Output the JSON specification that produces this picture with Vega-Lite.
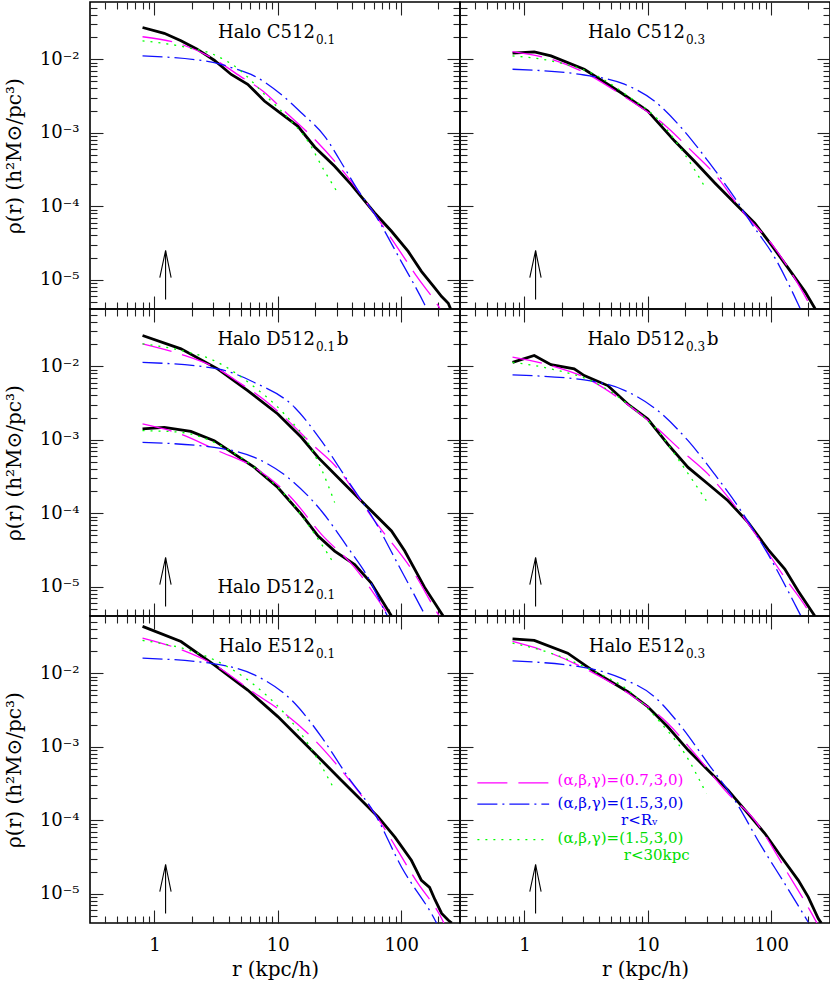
{
"$schema":"https://vega.github.io/schema/vega-lite/v6.json",
"padding":{"left":3,"top":0,"right":0,"bottom":0},
"background":"white",
"config":{"font":"DejaVu Serif","view":{"stroke":"#000","strokeWidth":1.6},
 "axis":{"domain":false,"grid":false,"tickColor":"#222","tickWidth":1.1,"labelFont":"DejaVu Serif","labelFontSize":18,"labelColor":"#000","titleFont":"DejaVu Serif","titleFontSize":20,"titleFontWeight":"normal","titleColor":"#000","labelOverlap":false,"labelFlush":false}},
"datasets":{
"curves":[
{"p":"C01","m":"sim","r":0.8,"v":0.027},{"p":"C01","m":"sim","r":1.2,"v":0.0225},{"p":"C01","m":"sim","r":1.64,"v":0.0178},{"p":"C01","m":"sim","r":2.2,"v":0.0138},{"p":"C01","m":"sim","r":3.05,"v":0.00969},{"p":"C01","m":"sim","r":4.19,"v":0.0062},{"p":"C01","m":"sim","r":5.7,"v":0.00456},{"p":"C01","m":"sim","r":7.78,"v":0.0027},{"p":"C01","m":"sim","r":10,"v":0.00197},{"p":"C01","m":"sim","r":14.5,"v":0.00123},{"p":"C01","m":"sim","r":19.9,"v":0.00064},{"p":"C01","m":"sim","r":28.9,"v":0.00035},{"p":"C01","m":"sim","r":39.4,"v":0.000197},{"p":"C01","m":"sim","r":61,"v":0.000081},{"p":"C01","m":"sim","r":83.5,"v":0.0000457},{"p":"C01","m":"sim","r":114,"v":0.0000243},{"p":"C01","m":"sim","r":146,"v":0.000013},{"p":"C01","m":"sim","r":188,"v":0.0000077},{"p":"C01","m":"sim","r":213,"v":0.0000059},{"p":"C01","m":"sim","r":241,"v":0.0000048},{"p":"C01","m":"sim","r":252,"v":0.000004},
{"p":"C01","m":"a07","r":0.8,"v":0.0202},{"p":"C01","m":"a07","r":1.64,"v":0.016},{"p":"C01","m":"a07","r":3.05,"v":0.01},{"p":"C01","m":"a07","r":5,"v":0.0058},{"p":"C01","m":"a07","r":7.55,"v":0.0037},{"p":"C01","m":"a07","r":11.3,"v":0.00197},{"p":"C01","m":"a07","r":20.5,"v":0.00077},{"p":"C01","m":"a07","r":33.8,"v":0.0003},{"p":"C01","m":"a07","r":61,"v":0.000078},{"p":"C01","m":"a07","r":100,"v":0.000023},{"p":"C01","m":"a07","r":137,"v":0.0000105},{"p":"C01","m":"a07","r":200,"v":0.0000044},{"p":"C01","m":"a07","r":215,"v":0.0000036},
{"p":"C01","m":"a15","r":0.8,"v":0.0111},{"p":"C01","m":"a15","r":3.05,"v":0.009},{"p":"C01","m":"a15","r":4.19,"v":0.0077},{"p":"C01","m":"a15","r":6.46,"v":0.0059},{"p":"C01","m":"a15","r":10.6,"v":0.00333},{"p":"C01","m":"a15","r":15.5,"v":0.00187},{"p":"C01","m":"a15","r":23.9,"v":0.0009},{"p":"C01","m":"a15","r":34.8,"v":0.00033},{"p":"C01","m":"a15","r":43.4,"v":0.000178},{"p":"C01","m":"a15","r":61,"v":0.000078},{"p":"C01","m":"a15","r":100,"v":0.0000178},{"p":"C01","m":"a15","r":155,"v":0.0000046},{"p":"C01","m":"a15","r":165,"v":0.0000037},
{"p":"C01","m":"a15c","r":0.8,"v":0.0178},{"p":"C01","m":"a15c","r":1.85,"v":0.0144},{"p":"C01","m":"a15c","r":3.05,"v":0.0115},{"p":"C01","m":"a15c","r":5.03,"v":0.0069},{"p":"C01","m":"a15c","r":7.78,"v":0.00333},{"p":"C01","m":"a15c","r":12.8,"v":0.00144},{"p":"C01","m":"a15c","r":17.5,"v":0.00077},{"p":"C01","m":"a15c","r":23.9,"v":0.0003},{"p":"C01","m":"a15c","r":28.9,"v":0.000178},{"p":"C01","m":"a15c","r":30,"v":0.00016},
{"p":"C03","m":"sim","r":0.8,"v":0.0121},{"p":"C03","m":"sim","r":1.2,"v":0.0126},{"p":"C03","m":"sim","r":1.64,"v":0.0111},{"p":"C03","m":"sim","r":3.05,"v":0.0073},{"p":"C03","m":"sim","r":6.07,"v":0.0035},{"p":"C03","m":"sim","r":10,"v":0.00197},{"p":"C03","m":"sim","r":16.5,"v":0.00077},{"p":"C03","m":"sim","r":23.9,"v":0.00041},{"p":"C03","m":"sim","r":34.8,"v":0.000209},{"p":"C03","m":"sim","r":53.7,"v":0.0001},{"p":"C03","m":"sim","r":73.6,"v":0.000059},{"p":"C03","m":"sim","r":100,"v":0.00003},{"p":"C03","m":"sim","r":137,"v":0.0000145},{"p":"C03","m":"sim","r":188,"v":0.0000069},{"p":"C03","m":"sim","r":226,"v":0.0000041},{"p":"C03","m":"sim","r":235,"v":0.0000037},
{"p":"C03","m":"a07","r":0.8,"v":0.0127},{"p":"C03","m":"a07","r":1.64,"v":0.01},{"p":"C03","m":"a07","r":3.05,"v":0.0066},{"p":"C03","m":"a07","r":6.07,"v":0.0033},{"p":"C03","m":"a07","r":14.5,"v":0.00117},{"p":"C03","m":"a07","r":21.2,"v":0.00063},{"p":"C03","m":"a07","r":37,"v":0.000243},{"p":"C03","m":"a07","r":57,"v":0.00009},{"p":"C03","m":"a07","r":107,"v":0.000027},{"p":"C03","m":"a07","r":155,"v":0.0000105},{"p":"C03","m":"a07","r":213,"v":0.0000041},
{"p":"C03","m":"a15","r":0.8,"v":0.0073},{"p":"C03","m":"a15","r":3.05,"v":0.0061},{"p":"C03","m":"a15","r":6.46,"v":0.00457},{"p":"C03","m":"a15","r":11.3,"v":0.0027},{"p":"C03","m":"a15","r":18.7,"v":0.00117},{"p":"C03","m":"a15","r":30.8,"v":0.00041},{"p":"C03","m":"a15","r":50.7,"v":0.00013},{"p":"C03","m":"a15","r":69,"v":0.000059},{"p":"C03","m":"a15","r":107,"v":0.00002},{"p":"C03","m":"a15","r":166,"v":0.0000046},{"p":"C03","m":"a15","r":175,"v":0.0000038},
{"p":"C03","m":"a15c","r":0.8,"v":0.0111},{"p":"C03","m":"a15c","r":1.64,"v":0.0095},{"p":"C03","m":"a15c","r":3.92,"v":0.0059},{"p":"C03","m":"a15c","r":6.88,"v":0.00316},{"p":"C03","m":"a15c","r":12.8,"v":0.00137},{"p":"C03","m":"a15c","r":19.9,"v":0.00051},{"p":"C03","m":"a15c","r":29.8,"v":0.00017},
{"p":"D01","s":"b","m":"sim","r":0.8,"v":0.0262},{"p":"D01","s":"b","m":"sim","r":1.64,"v":0.0172},{"p":"D01","s":"b","m":"sim","r":3.25,"v":0.0092},{"p":"D01","s":"b","m":"sim","r":5.7,"v":0.00466},{"p":"D01","s":"b","m":"sim","r":10,"v":0.00224},{"p":"D01","s":"b","m":"sim","r":15.5,"v":0.00108},{"p":"D01","s":"b","m":"sim","r":21.2,"v":0.000575},{"p":"D01","s":"b","m":"sim","r":32.7,"v":0.000276},{"p":"D01","s":"b","m":"sim","r":54,"v":0.000119},{"p":"D01","s":"b","m":"sim","r":83.5,"v":0.0000575},{"p":"D01","s":"b","m":"sim","r":107,"v":0.0000306},{"p":"D01","s":"b","m":"sim","r":155,"v":0.0000098},{"p":"D01","s":"b","m":"sim","r":219,"v":0.000004},
{"p":"D01","s":"b","m":"a07","r":0.8,"v":0.0202},{"p":"D01","s":"b","m":"a07","r":1.64,"v":0.0145},{"p":"D01","s":"b","m":"a07","r":3.25,"v":0.0092},{"p":"D01","s":"b","m":"a07","r":5,"v":0.0058},{"p":"D01","s":"b","m":"a07","r":7.55,"v":0.0036},{"p":"D01","s":"b","m":"a07","r":11.3,"v":0.00202},{"p":"D01","s":"b","m":"a07","r":20,"v":0.0008},{"p":"D01","s":"b","m":"a07","r":28.9,"v":0.00045},{"p":"D01","s":"b","m":"a07","r":61,"v":0.0000785},{"p":"D01","s":"b","m":"a07","r":129,"v":0.0000148},{"p":"D01","s":"b","m":"a07","r":200,"v":0.0000042},{"p":"D01","s":"b","m":"a07","r":215,"v":0.0000035},
{"p":"D01","s":"b","m":"a15","r":0.8,"v":0.0113},{"p":"D01","s":"b","m":"a15","r":3.25,"v":0.0092},{"p":"D01","s":"b","m":"a15","r":6.46,"v":0.006},{"p":"D01","s":"b","m":"a15","r":13.7,"v":0.00275},{"p":"D01","s":"b","m":"a15","r":22.5,"v":0.00097},{"p":"D01","s":"b","m":"a15","r":37,"v":0.000276},{"p":"D01","s":"b","m":"a15","r":61,"v":0.0000785},{"p":"D01","s":"b","m":"a15","r":94.6,"v":0.00002},{"p":"D01","s":"b","m":"a15","r":155,"v":0.0000042},
{"p":"D01","s":"b","m":"a15c","r":0.8,"v":0.0202},{"p":"D01","s":"b","m":"a15c","r":1.64,"v":0.0164},{"p":"D01","s":"b","m":"a15c","r":3.05,"v":0.0119},{"p":"D01","s":"b","m":"a15c","r":6.46,"v":0.0052},{"p":"D01","s":"b","m":"a15c","r":11.3,"v":0.00224},{"p":"D01","s":"b","m":"a15c","r":18.7,"v":0.00076},{"p":"D01","s":"b","m":"a15c","r":23,"v":0.00037},{"p":"D01","s":"b","m":"a15c","r":28.9,"v":0.00014},
{"p":"D01","s":"a","m":"sim","r":0.8,"v":0.0014},{"p":"D01","s":"a","m":"sim","r":1.2,"v":0.00147},{"p":"D01","s":"a","m":"sim","r":1.97,"v":0.0013},{"p":"D01","s":"a","m":"sim","r":3.05,"v":0.00097},{"p":"D01","s":"a","m":"sim","r":6.46,"v":0.00042},{"p":"D01","s":"a","m":"sim","r":10,"v":0.000224},{"p":"D01","s":"a","m":"sim","r":15.5,"v":0.000097},{"p":"D01","s":"a","m":"sim","r":21.2,"v":0.000049},{"p":"D01","s":"a","m":"sim","r":28.9,"v":0.0000306},{"p":"D01","s":"a","m":"sim","r":42,"v":0.00002},{"p":"D01","s":"a","m":"sim","r":57,"v":0.0000113},{"p":"D01","s":"a","m":"sim","r":83.5,"v":0.000004},
{"p":"D01","s":"a","m":"a07","r":0.8,"v":0.00164},{"p":"D01","s":"a","m":"a07","r":1.64,"v":0.00119},{"p":"D01","s":"a","m":"a07","r":3.25,"v":0.00071},{"p":"D01","s":"a","m":"a07","r":6.46,"v":0.00042},{"p":"D01","s":"a","m":"a07","r":12.8,"v":0.000164},{"p":"D01","s":"a","m":"a07","r":22.5,"v":0.000052},{"p":"D01","s":"a","m":"a07","r":42,"v":0.0000182},{"p":"D01","s":"a","m":"a07","r":78,"v":0.0000042},
{"p":"D01","s":"a","m":"a15","r":0.8,"v":0.00092},{"p":"D01","s":"a","m":"a15","r":3.05,"v":0.000785},{"p":"D01","s":"a","m":"a15","r":6.46,"v":0.000575},{"p":"D01","s":"a","m":"a15","r":12.1,"v":0.000306},{"p":"D01","s":"a","m":"a15","r":22.5,"v":0.000108},{"p":"D01","s":"a","m":"a15","r":37,"v":0.000034},{"p":"D01","s":"a","m":"a15","r":54,"v":0.0000133},{"p":"D01","s":"a","m":"a15","r":73.6,"v":0.0000047},{"p":"D01","s":"a","m":"a15","r":78,"v":0.0000039},
{"p":"D01","s":"a","m":"a15c","r":0.8,"v":0.00133},{"p":"D01","s":"a","m":"a15c","r":1.64,"v":0.00126},{"p":"D01","s":"a","m":"a15c","r":3.05,"v":0.00092},{"p":"D01","s":"a","m":"a15c","r":6.46,"v":0.00042},{"p":"D01","s":"a","m":"a15c","r":11.3,"v":0.000182},{"p":"D01","s":"a","m":"a15c","r":19.9,"v":0.000052},{"p":"D01","s":"a","m":"a15c","r":28.9,"v":0.00002},
{"p":"D03","m":"sim","r":0.8,"v":0.0113},{"p":"D03","m":"sim","r":1.2,"v":0.014},{"p":"D03","m":"sim","r":1.64,"v":0.0105},{"p":"D03","m":"sim","r":2.53,"v":0.0092},{"p":"D03","m":"sim","r":3.05,"v":0.00746},{"p":"D03","m":"sim","r":4.73,"v":0.00545},{"p":"D03","m":"sim","r":6.88,"v":0.00306},{"p":"D03","m":"sim","r":10,"v":0.00191},{"p":"D03","m":"sim","r":14.5,"v":0.00087},{"p":"D03","m":"sim","r":21.2,"v":0.00042},{"p":"D03","m":"sim","r":30.8,"v":0.00025},{"p":"D03","m":"sim","r":44.7,"v":0.000148},{"p":"D03","m":"sim","r":65,"v":0.000075},{"p":"D03","m":"sim","r":94.6,"v":0.000032},{"p":"D03","m":"sim","r":129,"v":0.0000174},{"p":"D03","m":"sim","r":166,"v":0.0000087},{"p":"D03","m":"sim","r":226,"v":0.000004},
{"p":"D03","m":"a07","r":0.8,"v":0.0133},{"p":"D03","m":"a07","r":1.64,"v":0.0102},{"p":"D03","m":"a07","r":3.05,"v":0.0071},{"p":"D03","m":"a07","r":5.7,"v":0.00377},{"p":"D03","m":"a07","r":11.3,"v":0.00155},{"p":"D03","m":"a07","r":18.7,"v":0.00071},{"p":"D03","m":"a07","r":30.8,"v":0.00034},{"p":"D03","m":"a07","r":57,"v":0.000098},{"p":"D03","m":"a07","r":129,"v":0.0000133},{"p":"D03","m":"a07","r":200,"v":0.0000047},{"p":"D03","m":"a07","r":215,"v":0.0000038},
{"p":"D03","m":"a15","r":0.8,"v":0.0076},{"p":"D03","m":"a15","r":3.05,"v":0.0065},{"p":"D03","m":"a15","r":6.46,"v":0.0047},{"p":"D03","m":"a15","r":12,"v":0.0025},{"p":"D03","m":"a15","r":21.2,"v":0.00097},{"p":"D03","m":"a15","r":34.8,"v":0.00034},{"p":"D03","m":"a15","r":57,"v":0.000108},{"p":"D03","m":"a15","r":94.6,"v":0.0000275},{"p":"D03","m":"a15","r":166,"v":0.0000047},{"p":"D03","m":"a15","r":180,"v":0.0000036},
{"p":"D03","m":"a15c","r":0.8,"v":0.0113},{"p":"D03","m":"a15c","r":1.64,"v":0.0092},{"p":"D03","m":"a15c","r":3.68,"v":0.00605},{"p":"D03","m":"a15c","r":6.88,"v":0.00306},{"p":"D03","m":"a15c","r":12,"v":0.00133},{"p":"D03","m":"a15c","r":18.7,"v":0.00047},{"p":"D03","m":"a15c","r":29.8,"v":0.000148},
{"p":"E01","m":"sim","r":0.8,"v":0.0433},{"p":"E01","m":"sim","r":1.64,"v":0.027},{"p":"E01","m":"sim","r":3.05,"v":0.013},{"p":"E01","m":"sim","r":5.7,"v":0.0059},{"p":"E01","m":"sim","r":10,"v":0.00257},{"p":"E01","m":"sim","r":15.5,"v":0.00123},{"p":"E01","m":"sim","r":22.5,"v":0.00066},{"p":"E01","m":"sim","r":32.7,"v":0.00035},{"p":"E01","m":"sim","r":47.6,"v":0.000187},{"p":"E01","m":"sim","r":65,"v":0.000111},{"p":"E01","m":"sim","r":89,"v":0.000059},{"p":"E01","m":"sim","r":121,"v":0.0000285},{"p":"E01","m":"sim","r":146,"v":0.0000152},{"p":"E01","m":"sim","r":170,"v":0.0000122},{"p":"E01","m":"sim","r":188,"v":0.0000083},{"p":"E01","m":"sim","r":213,"v":0.0000054},{"p":"E01","m":"sim","r":240,"v":0.0000044},{"p":"E01","m":"sim","r":257,"v":0.000004},
{"p":"E01","m":"a07","r":0.8,"v":0.03},{"p":"E01","m":"a07","r":1.64,"v":0.0209},{"p":"E01","m":"a07","r":3.05,"v":0.013},{"p":"E01","m":"a07","r":6.46,"v":0.00537},{"p":"E01","m":"a07","r":11.3,"v":0.00285},{"p":"E01","m":"a07","r":19.9,"v":0.00123},{"p":"E01","m":"a07","r":32.7,"v":0.00048},{"p":"E01","m":"a07","r":61,"v":0.000123},{"p":"E01","m":"a07","r":137,"v":0.0000138},{"p":"E01","m":"a07","r":213,"v":0.0000046},{"p":"E01","m":"a07","r":225,"v":0.0000038},
{"p":"E01","m":"a15","r":0.8,"v":0.016},{"p":"E01","m":"a15","r":3.05,"v":0.0134},{"p":"E01","m":"a15","r":6.46,"v":0.0095},{"p":"E01","m":"a15","r":13.7,"v":0.0039},{"p":"E01","m":"a15","r":22.5,"v":0.00137},{"p":"E01","m":"a15","r":37,"v":0.00039},{"p":"E01","m":"a15","r":61,"v":0.000123},{"p":"E01","m":"a15","r":100.6,"v":0.0000231},{"p":"E01","m":"a15","r":188,"v":0.0000044},{"p":"E01","m":"a15","r":200,"v":0.0000036},
{"p":"E01","m":"a15c","r":0.8,"v":0.0279},{"p":"E01","m":"a15c","r":1.85,"v":0.0209},{"p":"E01","m":"a15c","r":3.05,"v":0.0152},{"p":"E01","m":"a15c","r":6.46,"v":0.0069},{"p":"E01","m":"a15c","r":11.3,"v":0.00285},{"p":"E01","m":"a15c","r":17.5,"v":0.00111},{"p":"E01","m":"a15c","r":28.9,"v":0.000257},
{"p":"E03","m":"sim","r":0.8,"v":0.0294},{"p":"E03","m":"sim","r":1.2,"v":0.0279},{"p":"E03","m":"sim","r":2.24,"v":0.0187},{"p":"E03","m":"sim","r":3.68,"v":0.0105},{"p":"E03","m":"sim","r":6.88,"v":0.0056},{"p":"E03","m":"sim","r":10,"v":0.0035},{"p":"E03","m":"sim","r":14.5,"v":0.00187},{"p":"E03","m":"sim","r":21.2,"v":0.0009},{"p":"E03","m":"sim","r":30.8,"v":0.00048},{"p":"E03","m":"sim","r":44.7,"v":0.000257},{"p":"E03","m":"sim","r":65,"v":0.000123},{"p":"E03","m":"sim","r":89,"v":0.000066},{"p":"E03","m":"sim","r":121,"v":0.0000316},{"p":"E03","m":"sim","r":166,"v":0.0000152},{"p":"E03","m":"sim","r":200,"v":0.000009},{"p":"E03","m":"sim","r":241,"v":0.0000046},{"p":"E03","m":"sim","r":255,"v":0.000004},
{"p":"E03","m":"a07","r":0.8,"v":0.027},{"p":"E03","m":"a07","r":1.64,"v":0.0187},{"p":"E03","m":"a07","r":3.25,"v":0.0111},{"p":"E03","m":"a07","r":6.88,"v":0.00537},{"p":"E03","m":"a07","r":14.5,"v":0.00209},{"p":"E03","m":"a07","r":23.9,"v":0.00081},{"p":"E03","m":"a07","r":44.7,"v":0.000231},{"p":"E03","m":"a07","r":73.6,"v":0.0001},{"p":"E03","m":"a07","r":137,"v":0.0000187},{"p":"E03","m":"a07","r":213,"v":0.0000054},{"p":"E03","m":"a07","r":235,"v":0.000004},
{"p":"E03","m":"a15","r":0.8,"v":0.0147},{"p":"E03","m":"a15","r":3.25,"v":0.0117},{"p":"E03","m":"a15","r":6.07,"v":0.00855},{"p":"E03","m":"a15","r":11.3,"v":0.0048},{"p":"E03","m":"a15","r":18.7,"v":0.00187},{"p":"E03","m":"a15","r":30.8,"v":0.00059},{"p":"E03","m":"a15","r":50.7,"v":0.000187},{"p":"E03","m":"a15","r":83.5,"v":0.000044},{"p":"E03","m":"a15","r":129,"v":0.0000137},{"p":"E03","m":"a15","r":200,"v":0.0000041},
{"p":"E03","m":"a15c","r":0.8,"v":0.0257},{"p":"E03","m":"a15c","r":1.64,"v":0.0187},{"p":"E03","m":"a15c","r":3.46,"v":0.0111},{"p":"E03","m":"a15c","r":6.88,"v":0.0059},{"p":"E03","m":"a15c","r":12.8,"v":0.00209},{"p":"E03","m":"a15c","r":19.9,"v":0.00081},{"p":"E03","m":"a15c","r":29.8,"v":0.000231}
],
"arrow":[
{"g":"shaft","i":0,"r":1.23,"v":0.0000054},{"g":"shaft","i":1,"r":1.23,"v":0.000025},
{"g":"head","i":0,"r":1.104,"v":0.0000107},{"g":"head","i":1,"r":1.23,"v":0.000025},{"g":"head","i":2,"r":1.364,"v":0.0000107}
],
"labels":[
{"p":"C01","a":"Halo C512","b":"0.1","c":"","r":20,"v":0.023},
{"p":"C03","a":"Halo C512","b":"0.3","c":"","r":20,"v":0.023},
{"p":"D01","a":"Halo D512","b":"0.1","c":"b","r":20,"v":0.023},
{"p":"D01","a":"Halo D512","b":"0.1","c":"","r":20,"v":0.0000095},
{"p":"D03","a":"Halo D512","b":"0.3","c":"b","r":20,"v":0.023},
{"p":"E01","a":"Halo E512","b":"0.1","c":"","r":20,"v":0.023},
{"p":"E03","a":"Halo E512","b":"0.3","c":"","r":20,"v":0.023}
],
"leglines":[
{"m":"a07","r":0.415,"v":0.000323},{"m":"a07","r":1.585,"v":0.000323},
{"m":"a15","r":0.415,"v":0.000166},{"m":"a15","r":1.585,"v":0.000166},
{"m":"a15c","r":0.415,"v":0.0000545},{"m":"a15c","r":1.585,"v":0.0000545}
],
"legtext":[
{"m":"a07","t":"(α,β,γ)=(0.7,3,0)","r":1.855,"v":0.00035},
{"m":"a15","t":"(α,β,γ)=(1.5,3,0)","r":1.855,"v":0.00017},
{"m":"a15","t":"r<Rᵥ","r":6.07,"v":0.0001},
{"m":"a15c","t":"(α,β,γ)=(1.5,3,0)","r":1.855,"v":0.000058},
{"m":"a15c","t":"r<30kpc","r":6.38,"v":0.0000333}
]
},
"columns":2,
"spacing":0,
"bounds":"flush",
"concat":[
{"width":370,"height":307,"resolve":{"axis":{"x":"independent","y":"independent"}},"layer":[
 {"data":{"name":"curves"},"transform":[{"filter":"datum.p == 'C01' && datum.m == 'sim'"}],"mark":{"type":"line","color":"#000","strokeWidth":2.8,"clip":true},
  "encoding":{"x":{"field":"r","type":"quantitative","scale":{"type":"log","domain":[0.3,300],"nice":false},"axis":{"orient":"bottom","values":[1,10,100],"offset":-13,"tickSize":13,"labels":false,"title":null}},
  "y":{"field":"v","type":"quantitative","scale":{"type":"log","domain":[0.000004,0.06],"nice":false},"axis":{"orient":"left","values":[0.00001,0.0001,0.001,0.01],"offset":-13,"tickSize":13,"labelExpr":"datum.value == 0.01 ? '10⁻²' : datum.value == 0.001 ? '10⁻³' : datum.value == 0.0001 ? '10⁻⁴' : '10⁻⁵'","labelPadding":11,"title":"ρ(r)  (h²M⊙/pc³)","titlePadding":15}},"detail":{"field":"s"}}},
 {"data":{"name":"arrow"},"mark":{"type":"point","opacity":0},"encoding":{"x":{"field":"r","type":"quantitative","scale":{"type":"log","domain":[0.3,300],"nice":false},"axis":{"orient":"bottom","values":[0.4,0.5,0.6,0.7,0.8,0.9,2,3,4,5,6,7,8,9,20,30,40,50,60,70,80,90,200],"offset":-7,"tickSize":7,"labels":false,"title":null}},"y":{"field":"v","type":"quantitative","scale":{"type":"log","domain":[0.000004,0.06],"nice":false},"axis":{"orient":"left","values":[0.000005,0.000006,0.000007,0.000008,0.000009,0.00002,0.00003,0.00004,0.00005,0.00006,0.00007,0.00008,0.00009,0.0002,0.0003,0.0004,0.0005,0.0006,0.0007,0.0008,0.0009,0.002,0.003,0.004,0.005,0.006,0.007,0.008,0.009,0.02,0.03,0.04,0.05],"offset":-7,"tickSize":7,"labels":false,"title":null}}}},
 {"data":{"name":"arrow"},"mark":{"type":"point","opacity":0},"encoding":{"x":{"field":"r","type":"quantitative","scale":{"type":"log","domain":[0.3,300],"nice":false},"axis":{"orient":"top","values":[1,10,100],"offset":-13,"tickSize":13,"labels":false,"title":null}},"y":{"field":"v","type":"quantitative","scale":{"type":"log","domain":[0.000004,0.06],"nice":false},"axis":{"orient":"right","values":[0.00001,0.0001,0.001,0.01],"offset":-13,"tickSize":13,"labels":false,"title":null}}}},
 {"data":{"name":"arrow"},"mark":{"type":"point","opacity":0},"encoding":{"x":{"field":"r","type":"quantitative","scale":{"type":"log","domain":[0.3,300],"nice":false},"axis":{"orient":"top","values":[0.4,0.5,0.6,0.7,0.8,0.9,2,3,4,5,6,7,8,9,20,30,40,50,60,70,80,90,200],"offset":-7,"tickSize":7,"labels":false,"title":null}},"y":{"field":"v","type":"quantitative","scale":{"type":"log","domain":[0.000004,0.06],"nice":false},"axis":{"orient":"right","values":[0.000005,0.000006,0.000007,0.000008,0.000009,0.00002,0.00003,0.00004,0.00005,0.00006,0.00007,0.00008,0.00009,0.0002,0.0003,0.0004,0.0005,0.0006,0.0007,0.0008,0.0009,0.002,0.003,0.004,0.005,0.006,0.007,0.008,0.009,0.02,0.03,0.04,0.05],"offset":-7,"tickSize":7,"labels":false,"title":null}}}},
 {"data":{"name":"curves"},"transform":[{"filter":"datum.p == 'C01' && datum.m != 'sim'"}],"mark":{"type":"line","strokeWidth":1.3,"clip":true,"interpolate":"monotone"},
  "encoding":{"x":{"field":"r","type":"quantitative","scale":{"type":"log","domain":[0.3,300],"nice":false},"axis":null},"y":{"field":"v","type":"quantitative","scale":{"type":"log","domain":[0.000004,0.06],"nice":false},"axis":null},
  "color":{"field":"m","type":"nominal","scale":{"domain":["a07","a15","a15c"],"range":["#ff00ff","#1010ff","#00ff00"]},"legend":null},
  "strokeDash":{"field":"m","type":"nominal","scale":{"domain":["a07","a15","a15c"],"range":[[30,11],[20,5,2,5],[2,6]]},"legend":null},"detail":{"field":"s"}}},
 {"data":{"name":"arrow"},"mark":{"type":"line","color":"#000","strokeWidth":1.1},"encoding":{"x":{"field":"r","type":"quantitative","scale":{"type":"log","domain":[0.3,300],"nice":false},"axis":null},"y":{"field":"v","type":"quantitative","scale":{"type":"log","domain":[0.000004,0.06],"nice":false},"axis":null},"detail":{"field":"g"},"order":{"field":"i"}}},
 {"data":{"name":"labels"},"transform":[{"filter":"datum.p == 'C01'"}],"mark":{"type":"text","align":"right","baseline":"middle","fontSize":18,"color":"#000"},"encoding":{"x":{"field":"r","type":"quantitative","scale":{"type":"log","domain":[0.3,300],"nice":false},"axis":null},"y":{"field":"v","type":"quantitative","scale":{"type":"log","domain":[0.000004,0.06],"nice":false},"axis":null},"text":{"field":"a"}}},
 {"data":{"name":"labels"},"transform":[{"filter":"datum.p == 'C01'"}],"mark":{"type":"text","align":"left","baseline":"middle","fontSize":12,"dx":1,"dy":7,"color":"#000"},"encoding":{"x":{"field":"r","type":"quantitative","scale":{"type":"log","domain":[0.3,300],"nice":false},"axis":null},"y":{"field":"v","type":"quantitative","scale":{"type":"log","domain":[0.000004,0.06],"nice":false},"axis":null},"text":{"field":"b"}}}
]},
{"width":370,"height":307,"resolve":{"axis":{"x":"independent","y":"independent"}},"layer":[
 {"data":{"name":"curves"},"transform":[{"filter":"datum.p == 'C03' && datum.m == 'sim'"}],"mark":{"type":"line","color":"#000","strokeWidth":2.8,"clip":true},
  "encoding":{"x":{"field":"r","type":"quantitative","scale":{"type":"log","domain":[0.3,300],"nice":false},"axis":{"orient":"bottom","values":[1,10,100],"offset":-13,"tickSize":13,"labels":false,"title":null}},
  "y":{"field":"v","type":"quantitative","scale":{"type":"log","domain":[0.000004,0.06],"nice":false},"axis":{"orient":"left","values":[0.00001,0.0001,0.001,0.01],"offset":-13,"tickSize":13,"labels":false,"title":null}},"detail":{"field":"s"}}},
 {"data":{"name":"arrow"},"mark":{"type":"point","opacity":0},"encoding":{"x":{"field":"r","type":"quantitative","scale":{"type":"log","domain":[0.3,300],"nice":false},"axis":{"orient":"bottom","values":[0.4,0.5,0.6,0.7,0.8,0.9,2,3,4,5,6,7,8,9,20,30,40,50,60,70,80,90,200],"offset":-7,"tickSize":7,"labels":false,"title":null}},"y":{"field":"v","type":"quantitative","scale":{"type":"log","domain":[0.000004,0.06],"nice":false},"axis":{"orient":"left","values":[0.000005,0.000006,0.000007,0.000008,0.000009,0.00002,0.00003,0.00004,0.00005,0.00006,0.00007,0.00008,0.00009,0.0002,0.0003,0.0004,0.0005,0.0006,0.0007,0.0008,0.0009,0.002,0.003,0.004,0.005,0.006,0.007,0.008,0.009,0.02,0.03,0.04,0.05],"offset":-7,"tickSize":7,"labels":false,"title":null}}}},
 {"data":{"name":"arrow"},"mark":{"type":"point","opacity":0},"encoding":{"x":{"field":"r","type":"quantitative","scale":{"type":"log","domain":[0.3,300],"nice":false},"axis":{"orient":"top","values":[1,10,100],"offset":-13,"tickSize":13,"labels":false,"title":null}},"y":{"field":"v","type":"quantitative","scale":{"type":"log","domain":[0.000004,0.06],"nice":false},"axis":{"orient":"right","values":[0.00001,0.0001,0.001,0.01],"offset":-13,"tickSize":13,"labels":false,"title":null}}}},
 {"data":{"name":"arrow"},"mark":{"type":"point","opacity":0},"encoding":{"x":{"field":"r","type":"quantitative","scale":{"type":"log","domain":[0.3,300],"nice":false},"axis":{"orient":"top","values":[0.4,0.5,0.6,0.7,0.8,0.9,2,3,4,5,6,7,8,9,20,30,40,50,60,70,80,90,200],"offset":-7,"tickSize":7,"labels":false,"title":null}},"y":{"field":"v","type":"quantitative","scale":{"type":"log","domain":[0.000004,0.06],"nice":false},"axis":{"orient":"right","values":[0.000005,0.000006,0.000007,0.000008,0.000009,0.00002,0.00003,0.00004,0.00005,0.00006,0.00007,0.00008,0.00009,0.0002,0.0003,0.0004,0.0005,0.0006,0.0007,0.0008,0.0009,0.002,0.003,0.004,0.005,0.006,0.007,0.008,0.009,0.02,0.03,0.04,0.05],"offset":-7,"tickSize":7,"labels":false,"title":null}}}},
 {"data":{"name":"curves"},"transform":[{"filter":"datum.p == 'C03' && datum.m != 'sim'"}],"mark":{"type":"line","strokeWidth":1.3,"clip":true,"interpolate":"monotone"},
  "encoding":{"x":{"field":"r","type":"quantitative","scale":{"type":"log","domain":[0.3,300],"nice":false},"axis":null},"y":{"field":"v","type":"quantitative","scale":{"type":"log","domain":[0.000004,0.06],"nice":false},"axis":null},
  "color":{"field":"m","type":"nominal","scale":{"domain":["a07","a15","a15c"],"range":["#ff00ff","#1010ff","#00ff00"]},"legend":null},
  "strokeDash":{"field":"m","type":"nominal","scale":{"domain":["a07","a15","a15c"],"range":[[30,11],[20,5,2,5],[2,6]]},"legend":null},"detail":{"field":"s"}}},
 {"data":{"name":"arrow"},"mark":{"type":"line","color":"#000","strokeWidth":1.1},"encoding":{"x":{"field":"r","type":"quantitative","scale":{"type":"log","domain":[0.3,300],"nice":false},"axis":null},"y":{"field":"v","type":"quantitative","scale":{"type":"log","domain":[0.000004,0.06],"nice":false},"axis":null},"detail":{"field":"g"},"order":{"field":"i"}}},
 {"data":{"name":"labels"},"transform":[{"filter":"datum.p == 'C03'"}],"mark":{"type":"text","align":"right","baseline":"middle","fontSize":18,"color":"#000"},"encoding":{"x":{"field":"r","type":"quantitative","scale":{"type":"log","domain":[0.3,300],"nice":false},"axis":null},"y":{"field":"v","type":"quantitative","scale":{"type":"log","domain":[0.000004,0.06],"nice":false},"axis":null},"text":{"field":"a"}}},
 {"data":{"name":"labels"},"transform":[{"filter":"datum.p == 'C03'"}],"mark":{"type":"text","align":"left","baseline":"middle","fontSize":12,"dx":1,"dy":7,"color":"#000"},"encoding":{"x":{"field":"r","type":"quantitative","scale":{"type":"log","domain":[0.3,300],"nice":false},"axis":null},"y":{"field":"v","type":"quantitative","scale":{"type":"log","domain":[0.000004,0.06],"nice":false},"axis":null},"text":{"field":"b"}}}
]},
{"width":370,"height":307,"resolve":{"axis":{"x":"independent","y":"independent"}},"layer":[
 {"data":{"name":"curves"},"transform":[{"filter":"datum.p == 'D01' && datum.m == 'sim'"}],"mark":{"type":"line","color":"#000","strokeWidth":2.8,"clip":true},
  "encoding":{"x":{"field":"r","type":"quantitative","scale":{"type":"log","domain":[0.3,300],"nice":false},"axis":{"orient":"bottom","values":[1,10,100],"offset":-13,"tickSize":13,"labels":false,"title":null}},
  "y":{"field":"v","type":"quantitative","scale":{"type":"log","domain":[0.000004,0.06],"nice":false},"axis":{"orient":"left","values":[0.00001,0.0001,0.001,0.01],"offset":-13,"tickSize":13,"labelExpr":"datum.value == 0.01 ? '10⁻²' : datum.value == 0.001 ? '10⁻³' : datum.value == 0.0001 ? '10⁻⁴' : '10⁻⁵'","labelPadding":11,"title":"ρ(r)  (h²M⊙/pc³)","titlePadding":15}},"detail":{"field":"s"}}},
 {"data":{"name":"arrow"},"mark":{"type":"point","opacity":0},"encoding":{"x":{"field":"r","type":"quantitative","scale":{"type":"log","domain":[0.3,300],"nice":false},"axis":{"orient":"bottom","values":[0.4,0.5,0.6,0.7,0.8,0.9,2,3,4,5,6,7,8,9,20,30,40,50,60,70,80,90,200],"offset":-7,"tickSize":7,"labels":false,"title":null}},"y":{"field":"v","type":"quantitative","scale":{"type":"log","domain":[0.000004,0.06],"nice":false},"axis":{"orient":"left","values":[0.000005,0.000006,0.000007,0.000008,0.000009,0.00002,0.00003,0.00004,0.00005,0.00006,0.00007,0.00008,0.00009,0.0002,0.0003,0.0004,0.0005,0.0006,0.0007,0.0008,0.0009,0.002,0.003,0.004,0.005,0.006,0.007,0.008,0.009,0.02,0.03,0.04,0.05],"offset":-7,"tickSize":7,"labels":false,"title":null}}}},
 {"data":{"name":"arrow"},"mark":{"type":"point","opacity":0},"encoding":{"x":{"field":"r","type":"quantitative","scale":{"type":"log","domain":[0.3,300],"nice":false},"axis":{"orient":"top","values":[1,10,100],"offset":-13,"tickSize":13,"labels":false,"title":null}},"y":{"field":"v","type":"quantitative","scale":{"type":"log","domain":[0.000004,0.06],"nice":false},"axis":{"orient":"right","values":[0.00001,0.0001,0.001,0.01],"offset":-13,"tickSize":13,"labels":false,"title":null}}}},
 {"data":{"name":"arrow"},"mark":{"type":"point","opacity":0},"encoding":{"x":{"field":"r","type":"quantitative","scale":{"type":"log","domain":[0.3,300],"nice":false},"axis":{"orient":"top","values":[0.4,0.5,0.6,0.7,0.8,0.9,2,3,4,5,6,7,8,9,20,30,40,50,60,70,80,90,200],"offset":-7,"tickSize":7,"labels":false,"title":null}},"y":{"field":"v","type":"quantitative","scale":{"type":"log","domain":[0.000004,0.06],"nice":false},"axis":{"orient":"right","values":[0.000005,0.000006,0.000007,0.000008,0.000009,0.00002,0.00003,0.00004,0.00005,0.00006,0.00007,0.00008,0.00009,0.0002,0.0003,0.0004,0.0005,0.0006,0.0007,0.0008,0.0009,0.002,0.003,0.004,0.005,0.006,0.007,0.008,0.009,0.02,0.03,0.04,0.05],"offset":-7,"tickSize":7,"labels":false,"title":null}}}},
 {"data":{"name":"curves"},"transform":[{"filter":"datum.p == 'D01' && datum.m != 'sim'"}],"mark":{"type":"line","strokeWidth":1.3,"clip":true,"interpolate":"monotone"},
  "encoding":{"x":{"field":"r","type":"quantitative","scale":{"type":"log","domain":[0.3,300],"nice":false},"axis":null},"y":{"field":"v","type":"quantitative","scale":{"type":"log","domain":[0.000004,0.06],"nice":false},"axis":null},
  "color":{"field":"m","type":"nominal","scale":{"domain":["a07","a15","a15c"],"range":["#ff00ff","#1010ff","#00ff00"]},"legend":null},
  "strokeDash":{"field":"m","type":"nominal","scale":{"domain":["a07","a15","a15c"],"range":[[30,11],[20,5,2,5],[2,6]]},"legend":null},"detail":{"field":"s"}}},
 {"data":{"name":"arrow"},"mark":{"type":"line","color":"#000","strokeWidth":1.1},"encoding":{"x":{"field":"r","type":"quantitative","scale":{"type":"log","domain":[0.3,300],"nice":false},"axis":null},"y":{"field":"v","type":"quantitative","scale":{"type":"log","domain":[0.000004,0.06],"nice":false},"axis":null},"detail":{"field":"g"},"order":{"field":"i"}}},
 {"data":{"name":"labels"},"transform":[{"filter":"datum.p == 'D01'"}],"mark":{"type":"text","align":"right","baseline":"middle","fontSize":18,"color":"#000"},"encoding":{"x":{"field":"r","type":"quantitative","scale":{"type":"log","domain":[0.3,300],"nice":false},"axis":null},"y":{"field":"v","type":"quantitative","scale":{"type":"log","domain":[0.000004,0.06],"nice":false},"axis":null},"text":{"field":"a"}}},
 {"data":{"name":"labels"},"transform":[{"filter":"datum.p == 'D01'"}],"mark":{"type":"text","align":"left","baseline":"middle","fontSize":12,"dx":1,"dy":7,"color":"#000"},"encoding":{"x":{"field":"r","type":"quantitative","scale":{"type":"log","domain":[0.3,300],"nice":false},"axis":null},"y":{"field":"v","type":"quantitative","scale":{"type":"log","domain":[0.000004,0.06],"nice":false},"axis":null},"text":{"field":"b"}}},
 {"data":{"name":"labels"},"transform":[{"filter":"datum.p == 'D01'"}],"mark":{"type":"text","align":"left","baseline":"middle","fontSize":18,"dx":22,"color":"#000"},"encoding":{"x":{"field":"r","type":"quantitative","scale":{"type":"log","domain":[0.3,300],"nice":false},"axis":null},"y":{"field":"v","type":"quantitative","scale":{"type":"log","domain":[0.000004,0.06],"nice":false},"axis":null},"text":{"field":"c"}}}
]},
{"width":370,"height":307,"resolve":{"axis":{"x":"independent","y":"independent"}},"layer":[
 {"data":{"name":"curves"},"transform":[{"filter":"datum.p == 'D03' && datum.m == 'sim'"}],"mark":{"type":"line","color":"#000","strokeWidth":2.8,"clip":true},
  "encoding":{"x":{"field":"r","type":"quantitative","scale":{"type":"log","domain":[0.3,300],"nice":false},"axis":{"orient":"bottom","values":[1,10,100],"offset":-13,"tickSize":13,"labels":false,"title":null}},
  "y":{"field":"v","type":"quantitative","scale":{"type":"log","domain":[0.000004,0.06],"nice":false},"axis":{"orient":"left","values":[0.00001,0.0001,0.001,0.01],"offset":-13,"tickSize":13,"labels":false,"title":null}},"detail":{"field":"s"}}},
 {"data":{"name":"arrow"},"mark":{"type":"point","opacity":0},"encoding":{"x":{"field":"r","type":"quantitative","scale":{"type":"log","domain":[0.3,300],"nice":false},"axis":{"orient":"bottom","values":[0.4,0.5,0.6,0.7,0.8,0.9,2,3,4,5,6,7,8,9,20,30,40,50,60,70,80,90,200],"offset":-7,"tickSize":7,"labels":false,"title":null}},"y":{"field":"v","type":"quantitative","scale":{"type":"log","domain":[0.000004,0.06],"nice":false},"axis":{"orient":"left","values":[0.000005,0.000006,0.000007,0.000008,0.000009,0.00002,0.00003,0.00004,0.00005,0.00006,0.00007,0.00008,0.00009,0.0002,0.0003,0.0004,0.0005,0.0006,0.0007,0.0008,0.0009,0.002,0.003,0.004,0.005,0.006,0.007,0.008,0.009,0.02,0.03,0.04,0.05],"offset":-7,"tickSize":7,"labels":false,"title":null}}}},
 {"data":{"name":"arrow"},"mark":{"type":"point","opacity":0},"encoding":{"x":{"field":"r","type":"quantitative","scale":{"type":"log","domain":[0.3,300],"nice":false},"axis":{"orient":"top","values":[1,10,100],"offset":-13,"tickSize":13,"labels":false,"title":null}},"y":{"field":"v","type":"quantitative","scale":{"type":"log","domain":[0.000004,0.06],"nice":false},"axis":{"orient":"right","values":[0.00001,0.0001,0.001,0.01],"offset":-13,"tickSize":13,"labels":false,"title":null}}}},
 {"data":{"name":"arrow"},"mark":{"type":"point","opacity":0},"encoding":{"x":{"field":"r","type":"quantitative","scale":{"type":"log","domain":[0.3,300],"nice":false},"axis":{"orient":"top","values":[0.4,0.5,0.6,0.7,0.8,0.9,2,3,4,5,6,7,8,9,20,30,40,50,60,70,80,90,200],"offset":-7,"tickSize":7,"labels":false,"title":null}},"y":{"field":"v","type":"quantitative","scale":{"type":"log","domain":[0.000004,0.06],"nice":false},"axis":{"orient":"right","values":[0.000005,0.000006,0.000007,0.000008,0.000009,0.00002,0.00003,0.00004,0.00005,0.00006,0.00007,0.00008,0.00009,0.0002,0.0003,0.0004,0.0005,0.0006,0.0007,0.0008,0.0009,0.002,0.003,0.004,0.005,0.006,0.007,0.008,0.009,0.02,0.03,0.04,0.05],"offset":-7,"tickSize":7,"labels":false,"title":null}}}},
 {"data":{"name":"curves"},"transform":[{"filter":"datum.p == 'D03' && datum.m != 'sim'"}],"mark":{"type":"line","strokeWidth":1.3,"clip":true,"interpolate":"monotone"},
  "encoding":{"x":{"field":"r","type":"quantitative","scale":{"type":"log","domain":[0.3,300],"nice":false},"axis":null},"y":{"field":"v","type":"quantitative","scale":{"type":"log","domain":[0.000004,0.06],"nice":false},"axis":null},
  "color":{"field":"m","type":"nominal","scale":{"domain":["a07","a15","a15c"],"range":["#ff00ff","#1010ff","#00ff00"]},"legend":null},
  "strokeDash":{"field":"m","type":"nominal","scale":{"domain":["a07","a15","a15c"],"range":[[30,11],[20,5,2,5],[2,6]]},"legend":null},"detail":{"field":"s"}}},
 {"data":{"name":"arrow"},"mark":{"type":"line","color":"#000","strokeWidth":1.1},"encoding":{"x":{"field":"r","type":"quantitative","scale":{"type":"log","domain":[0.3,300],"nice":false},"axis":null},"y":{"field":"v","type":"quantitative","scale":{"type":"log","domain":[0.000004,0.06],"nice":false},"axis":null},"detail":{"field":"g"},"order":{"field":"i"}}},
 {"data":{"name":"labels"},"transform":[{"filter":"datum.p == 'D03'"}],"mark":{"type":"text","align":"right","baseline":"middle","fontSize":18,"color":"#000"},"encoding":{"x":{"field":"r","type":"quantitative","scale":{"type":"log","domain":[0.3,300],"nice":false},"axis":null},"y":{"field":"v","type":"quantitative","scale":{"type":"log","domain":[0.000004,0.06],"nice":false},"axis":null},"text":{"field":"a"}}},
 {"data":{"name":"labels"},"transform":[{"filter":"datum.p == 'D03'"}],"mark":{"type":"text","align":"left","baseline":"middle","fontSize":12,"dx":1,"dy":7,"color":"#000"},"encoding":{"x":{"field":"r","type":"quantitative","scale":{"type":"log","domain":[0.3,300],"nice":false},"axis":null},"y":{"field":"v","type":"quantitative","scale":{"type":"log","domain":[0.000004,0.06],"nice":false},"axis":null},"text":{"field":"b"}}},
 {"data":{"name":"labels"},"transform":[{"filter":"datum.p == 'D03'"}],"mark":{"type":"text","align":"left","baseline":"middle","fontSize":18,"dx":22,"color":"#000"},"encoding":{"x":{"field":"r","type":"quantitative","scale":{"type":"log","domain":[0.3,300],"nice":false},"axis":null},"y":{"field":"v","type":"quantitative","scale":{"type":"log","domain":[0.000004,0.06],"nice":false},"axis":null},"text":{"field":"c"}}}
]},
{"width":370,"height":307,"resolve":{"axis":{"x":"independent","y":"independent"}},"layer":[
 {"data":{"name":"curves"},"transform":[{"filter":"datum.p == 'E01' && datum.m == 'sim'"}],"mark":{"type":"line","color":"#000","strokeWidth":2.8,"clip":true},
  "encoding":{"x":{"field":"r","type":"quantitative","scale":{"type":"log","domain":[0.3,300],"nice":false},"axis":{"orient":"bottom","values":[1,10,100],"offset":-13,"tickSize":13,"labelExpr":"format(datum.value, 'd')","labelPadding":13,"title":"r  (kpc/h)","titlePadding":5}},
  "y":{"field":"v","type":"quantitative","scale":{"type":"log","domain":[0.000004,0.06],"nice":false},"axis":{"orient":"left","values":[0.00001,0.0001,0.001,0.01],"offset":-13,"tickSize":13,"labelExpr":"datum.value == 0.01 ? '10⁻²' : datum.value == 0.001 ? '10⁻³' : datum.value == 0.0001 ? '10⁻⁴' : '10⁻⁵'","labelPadding":11,"title":"ρ(r)  (h²M⊙/pc³)","titlePadding":15}},"detail":{"field":"s"}}},
 {"data":{"name":"arrow"},"mark":{"type":"point","opacity":0},"encoding":{"x":{"field":"r","type":"quantitative","scale":{"type":"log","domain":[0.3,300],"nice":false},"axis":{"orient":"bottom","values":[0.4,0.5,0.6,0.7,0.8,0.9,2,3,4,5,6,7,8,9,20,30,40,50,60,70,80,90,200],"offset":-7,"tickSize":7,"labels":false,"title":null}},"y":{"field":"v","type":"quantitative","scale":{"type":"log","domain":[0.000004,0.06],"nice":false},"axis":{"orient":"left","values":[0.000005,0.000006,0.000007,0.000008,0.000009,0.00002,0.00003,0.00004,0.00005,0.00006,0.00007,0.00008,0.00009,0.0002,0.0003,0.0004,0.0005,0.0006,0.0007,0.0008,0.0009,0.002,0.003,0.004,0.005,0.006,0.007,0.008,0.009,0.02,0.03,0.04,0.05],"offset":-7,"tickSize":7,"labels":false,"title":null}}}},
 {"data":{"name":"arrow"},"mark":{"type":"point","opacity":0},"encoding":{"x":{"field":"r","type":"quantitative","scale":{"type":"log","domain":[0.3,300],"nice":false},"axis":{"orient":"top","values":[1,10,100],"offset":-13,"tickSize":13,"labels":false,"title":null}},"y":{"field":"v","type":"quantitative","scale":{"type":"log","domain":[0.000004,0.06],"nice":false},"axis":{"orient":"right","values":[0.00001,0.0001,0.001,0.01],"offset":-13,"tickSize":13,"labels":false,"title":null}}}},
 {"data":{"name":"arrow"},"mark":{"type":"point","opacity":0},"encoding":{"x":{"field":"r","type":"quantitative","scale":{"type":"log","domain":[0.3,300],"nice":false},"axis":{"orient":"top","values":[0.4,0.5,0.6,0.7,0.8,0.9,2,3,4,5,6,7,8,9,20,30,40,50,60,70,80,90,200],"offset":-7,"tickSize":7,"labels":false,"title":null}},"y":{"field":"v","type":"quantitative","scale":{"type":"log","domain":[0.000004,0.06],"nice":false},"axis":{"orient":"right","values":[0.000005,0.000006,0.000007,0.000008,0.000009,0.00002,0.00003,0.00004,0.00005,0.00006,0.00007,0.00008,0.00009,0.0002,0.0003,0.0004,0.0005,0.0006,0.0007,0.0008,0.0009,0.002,0.003,0.004,0.005,0.006,0.007,0.008,0.009,0.02,0.03,0.04,0.05],"offset":-7,"tickSize":7,"labels":false,"title":null}}}},
 {"data":{"name":"curves"},"transform":[{"filter":"datum.p == 'E01' && datum.m != 'sim'"}],"mark":{"type":"line","strokeWidth":1.3,"clip":true,"interpolate":"monotone"},
  "encoding":{"x":{"field":"r","type":"quantitative","scale":{"type":"log","domain":[0.3,300],"nice":false},"axis":null},"y":{"field":"v","type":"quantitative","scale":{"type":"log","domain":[0.000004,0.06],"nice":false},"axis":null},
  "color":{"field":"m","type":"nominal","scale":{"domain":["a07","a15","a15c"],"range":["#ff00ff","#1010ff","#00ff00"]},"legend":null},
  "strokeDash":{"field":"m","type":"nominal","scale":{"domain":["a07","a15","a15c"],"range":[[30,11],[20,5,2,5],[2,6]]},"legend":null},"detail":{"field":"s"}}},
 {"data":{"name":"arrow"},"mark":{"type":"line","color":"#000","strokeWidth":1.1},"encoding":{"x":{"field":"r","type":"quantitative","scale":{"type":"log","domain":[0.3,300],"nice":false},"axis":null},"y":{"field":"v","type":"quantitative","scale":{"type":"log","domain":[0.000004,0.06],"nice":false},"axis":null},"detail":{"field":"g"},"order":{"field":"i"}}},
 {"data":{"name":"labels"},"transform":[{"filter":"datum.p == 'E01'"}],"mark":{"type":"text","align":"right","baseline":"middle","fontSize":18,"color":"#000"},"encoding":{"x":{"field":"r","type":"quantitative","scale":{"type":"log","domain":[0.3,300],"nice":false},"axis":null},"y":{"field":"v","type":"quantitative","scale":{"type":"log","domain":[0.000004,0.06],"nice":false},"axis":null},"text":{"field":"a"}}},
 {"data":{"name":"labels"},"transform":[{"filter":"datum.p == 'E01'"}],"mark":{"type":"text","align":"left","baseline":"middle","fontSize":12,"dx":1,"dy":7,"color":"#000"},"encoding":{"x":{"field":"r","type":"quantitative","scale":{"type":"log","domain":[0.3,300],"nice":false},"axis":null},"y":{"field":"v","type":"quantitative","scale":{"type":"log","domain":[0.000004,0.06],"nice":false},"axis":null},"text":{"field":"b"}}}
]},
{"width":370,"height":307,"resolve":{"axis":{"x":"independent","y":"independent"}},"layer":[
 {"data":{"name":"curves"},"transform":[{"filter":"datum.p == 'E03' && datum.m == 'sim'"}],"mark":{"type":"line","color":"#000","strokeWidth":2.8,"clip":true},
  "encoding":{"x":{"field":"r","type":"quantitative","scale":{"type":"log","domain":[0.3,300],"nice":false},"axis":{"orient":"bottom","values":[1,10,100],"offset":-13,"tickSize":13,"labelExpr":"format(datum.value, 'd')","labelPadding":13,"title":"r  (kpc/h)","titlePadding":5}},
  "y":{"field":"v","type":"quantitative","scale":{"type":"log","domain":[0.000004,0.06],"nice":false},"axis":{"orient":"left","values":[0.00001,0.0001,0.001,0.01],"offset":-13,"tickSize":13,"labels":false,"title":null}},"detail":{"field":"s"}}},
 {"data":{"name":"arrow"},"mark":{"type":"point","opacity":0},"encoding":{"x":{"field":"r","type":"quantitative","scale":{"type":"log","domain":[0.3,300],"nice":false},"axis":{"orient":"bottom","values":[0.4,0.5,0.6,0.7,0.8,0.9,2,3,4,5,6,7,8,9,20,30,40,50,60,70,80,90,200],"offset":-7,"tickSize":7,"labels":false,"title":null}},"y":{"field":"v","type":"quantitative","scale":{"type":"log","domain":[0.000004,0.06],"nice":false},"axis":{"orient":"left","values":[0.000005,0.000006,0.000007,0.000008,0.000009,0.00002,0.00003,0.00004,0.00005,0.00006,0.00007,0.00008,0.00009,0.0002,0.0003,0.0004,0.0005,0.0006,0.0007,0.0008,0.0009,0.002,0.003,0.004,0.005,0.006,0.007,0.008,0.009,0.02,0.03,0.04,0.05],"offset":-7,"tickSize":7,"labels":false,"title":null}}}},
 {"data":{"name":"arrow"},"mark":{"type":"point","opacity":0},"encoding":{"x":{"field":"r","type":"quantitative","scale":{"type":"log","domain":[0.3,300],"nice":false},"axis":{"orient":"top","values":[1,10,100],"offset":-13,"tickSize":13,"labels":false,"title":null}},"y":{"field":"v","type":"quantitative","scale":{"type":"log","domain":[0.000004,0.06],"nice":false},"axis":{"orient":"right","values":[0.00001,0.0001,0.001,0.01],"offset":-13,"tickSize":13,"labels":false,"title":null}}}},
 {"data":{"name":"arrow"},"mark":{"type":"point","opacity":0},"encoding":{"x":{"field":"r","type":"quantitative","scale":{"type":"log","domain":[0.3,300],"nice":false},"axis":{"orient":"top","values":[0.4,0.5,0.6,0.7,0.8,0.9,2,3,4,5,6,7,8,9,20,30,40,50,60,70,80,90,200],"offset":-7,"tickSize":7,"labels":false,"title":null}},"y":{"field":"v","type":"quantitative","scale":{"type":"log","domain":[0.000004,0.06],"nice":false},"axis":{"orient":"right","values":[0.000005,0.000006,0.000007,0.000008,0.000009,0.00002,0.00003,0.00004,0.00005,0.00006,0.00007,0.00008,0.00009,0.0002,0.0003,0.0004,0.0005,0.0006,0.0007,0.0008,0.0009,0.002,0.003,0.004,0.005,0.006,0.007,0.008,0.009,0.02,0.03,0.04,0.05],"offset":-7,"tickSize":7,"labels":false,"title":null}}}},
 {"data":{"name":"curves"},"transform":[{"filter":"datum.p == 'E03' && datum.m != 'sim'"}],"mark":{"type":"line","strokeWidth":1.3,"clip":true,"interpolate":"monotone"},
  "encoding":{"x":{"field":"r","type":"quantitative","scale":{"type":"log","domain":[0.3,300],"nice":false},"axis":null},"y":{"field":"v","type":"quantitative","scale":{"type":"log","domain":[0.000004,0.06],"nice":false},"axis":null},
  "color":{"field":"m","type":"nominal","scale":{"domain":["a07","a15","a15c"],"range":["#ff00ff","#1010ff","#00ff00"]},"legend":null},
  "strokeDash":{"field":"m","type":"nominal","scale":{"domain":["a07","a15","a15c"],"range":[[30,11],[20,5,2,5],[2,6]]},"legend":null},"detail":{"field":"s"}}},
 {"data":{"name":"leglines"},"mark":{"type":"line","strokeWidth":1.3},
  "encoding":{"x":{"field":"r","type":"quantitative","scale":{"type":"log","domain":[0.3,300],"nice":false},"axis":null},"y":{"field":"v","type":"quantitative","scale":{"type":"log","domain":[0.000004,0.06],"nice":false},"axis":null},
  "color":{"field":"m","type":"nominal","scale":{"domain":["a07","a15","a15c"],"range":["#ff00ff","#1010ff","#00ff00"]},"legend":null},
  "strokeDash":{"field":"m","type":"nominal","scale":{"domain":["a07","a15","a15c"],"range":[[30,11],[20,5,2,5],[2,6]]},"legend":null}}},
 {"data":{"name":"legtext"},"mark":{"type":"text","align":"left","baseline":"middle","fontSize":15},
  "encoding":{"x":{"field":"r","type":"quantitative","scale":{"type":"log","domain":[0.3,300],"nice":false},"axis":null},"y":{"field":"v","type":"quantitative","scale":{"type":"log","domain":[0.000004,0.06],"nice":false},"axis":null},
  "fill":{"field":"m","type":"nominal","scale":{"domain":["a07","a15","a15c"],"range":["#ff00ff","#0000ee","#00dd00"]},"legend":null},"text":{"field":"t"}}},
 {"data":{"name":"arrow"},"mark":{"type":"line","color":"#000","strokeWidth":1.1},"encoding":{"x":{"field":"r","type":"quantitative","scale":{"type":"log","domain":[0.3,300],"nice":false},"axis":null},"y":{"field":"v","type":"quantitative","scale":{"type":"log","domain":[0.000004,0.06],"nice":false},"axis":null},"detail":{"field":"g"},"order":{"field":"i"}}},
 {"data":{"name":"labels"},"transform":[{"filter":"datum.p == 'E03'"}],"mark":{"type":"text","align":"right","baseline":"middle","fontSize":18,"color":"#000"},"encoding":{"x":{"field":"r","type":"quantitative","scale":{"type":"log","domain":[0.3,300],"nice":false},"axis":null},"y":{"field":"v","type":"quantitative","scale":{"type":"log","domain":[0.000004,0.06],"nice":false},"axis":null},"text":{"field":"a"}}},
 {"data":{"name":"labels"},"transform":[{"filter":"datum.p == 'E03'"}],"mark":{"type":"text","align":"left","baseline":"middle","fontSize":12,"dx":1,"dy":7,"color":"#000"},"encoding":{"x":{"field":"r","type":"quantitative","scale":{"type":"log","domain":[0.3,300],"nice":false},"axis":null},"y":{"field":"v","type":"quantitative","scale":{"type":"log","domain":[0.000004,0.06],"nice":false},"axis":null},"text":{"field":"b"}}}
]}
]
}
